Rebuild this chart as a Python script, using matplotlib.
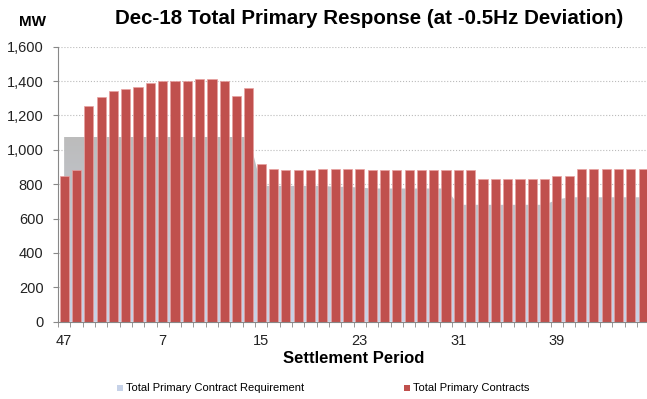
import numpy as np
import matplotlib
matplotlib.use("Agg")
import matplotlib.pyplot as plt
from matplotlib.colors import LinearSegmentedColormap

plt.rcParams['font.family'] = ['Liberation Sans', 'DejaVu Sans']

# settlement periods shown on the x axis (47, 48 of previous day, then 1..46)
periods = [47, 48] + list(range(1, 47))

# Total Primary Contracts (MW)
contracts = [849, 884, 1253, 1307, 1340, 1354, 1367, 1390, 1402, 1402, 1402, 1412,
             1412, 1398, 1315, 1361, 916, 888, 884, 884, 884, 888, 886, 886,
             886, 884, 884, 884, 884, 884, 884, 884, 884, 884, 830, 830,
             830, 830, 830, 830, 848, 848, 886, 886, 886, 886, 886, 886]

# Total Primary Contract Requirement (MW)
requirement = [1075, 1075, 1075, 1075, 1075, 1075, 1075, 1075, 1075, 1075, 1075, 1075,
               1075, 1075, 1075, 1075, 790, 790, 790, 790, 790, 790, 785, 785,
               780, 775, 775, 775, 775, 775, 775, 775, 680, 680, 680, 680,
               680, 680, 680, 680, 710, 724, 724, 724, 724, 724, 724, 724]

tick_idx = [0, 8, 16, 24, 32, 40]

x = np.arange(len(periods))

fig = plt.figure(figsize=(6.47, 3.99), dpi=100)
ax = fig.add_axes([0.0896, 0.1937, 0.914, 0.6893])

# requirement area with a grey -> pale blue gradient
poly = ax.fill_between(x, requirement, 0, facecolor='none', edgecolor='none', zorder=1)
cmap = LinearSegmentedColormap.from_list('req', ['#c9d2e6', '#bcbcbc'])
grad = np.linspace(0, 1, 256).reshape(-1, 1)
img = ax.imshow(grad, cmap=cmap, aspect='auto', origin='lower',
                extent=[x[0], x[-1], 0, max(requirement)], zorder=1)
img.set_clip_path(poly.get_paths()[0], transform=ax.transData)

ax.bar(x, contracts, width=0.74, color='#c0504d', edgecolor='#e8a0a0',
       linewidth=0.5, zorder=2)

ax.set_xlim(-0.5, len(periods) - 0.5)
ax.set_ylim(0, 1600)
ax.set_yticks(range(0, 1601, 200))
ax.set_yticklabels([f"{v:,}" for v in range(0, 1601, 200)], fontsize=10.5, color='#222222')
ax.set_xticks(tick_idx)
ax.set_xticklabels([str(periods[i]) for i in tick_idx], fontsize=10.5, color='#222222')
ax.set_xticks(np.arange(-0.5, len(periods), 1), minor=True)
ax.tick_params(axis='x', which='major', length=0, pad=9)
ax.tick_params(axis='x', which='minor', length=3.5, color='#888888', direction='out')
ax.tick_params(axis='y', length=3.5, color='#888888', direction='out', pad=7)

ax.grid(axis='y', linestyle=':', color='#bbbbbb', linewidth=0.8, zorder=0)
ax.set_axisbelow(True)
for s in ['top', 'right']:
    ax.spines[s].set_visible(False)
ax.spines['left'].set_color('#888888')
ax.spines['bottom'].set_color('#888888')

ax.set_xlabel("Settlement Period", fontsize=12, fontweight='bold', labelpad=2)
fig.text(0.03, 0.945, "MW", fontsize=11, fontweight='bold', ha='left', va='center')
fig.text(0.570, 0.953, "Dec-18 Total Primary Response (at -0.5Hz Deviation)",
         fontsize=14.8, fontweight='bold', ha='center', va='center')

# legend
fig.patches.append(plt.Rectangle((0.181, 0.021), 0.009, 0.015, transform=fig.transFigure,
                                 facecolor='#c6d2e8', edgecolor='none'))
fig.text(0.195, 0.028, "Total Primary Contract Requirement", fontsize=8, va='center')
fig.patches.append(plt.Rectangle((0.624, 0.021), 0.009, 0.015, transform=fig.transFigure,
                                 facecolor='#c0504d', edgecolor='none'))
fig.text(0.638, 0.028, "Total Primary Contracts", fontsize=8, va='center')

fig.savefig("out.png", dpi=100)
